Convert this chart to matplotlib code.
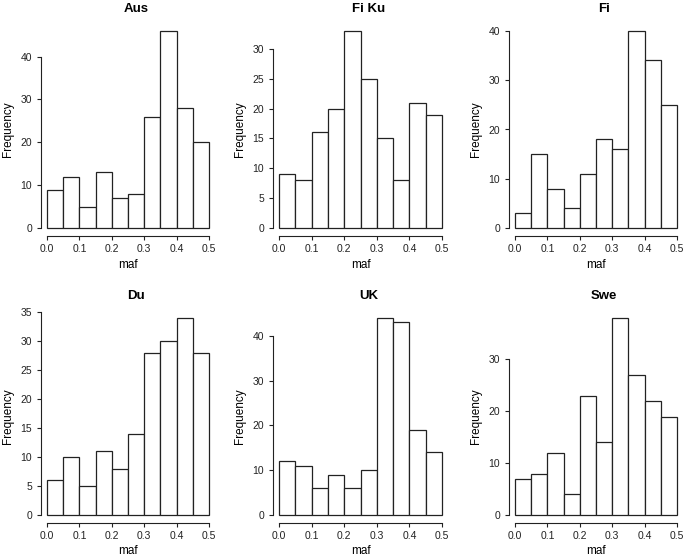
import numpy as np
import matplotlib
matplotlib.use('Agg')
import matplotlib.pyplot as plt

plt.rcParams['font.family'] = ['Liberation Sans', 'DejaVu Sans']

# maf histogram bins, shared by every panel
bin_edges = [0.0, 0.05, 0.1, 0.15, 0.2, 0.25, 0.3, 0.35, 0.4, 0.45, 0.5]
x_ticks = [0.0, 0.1, 0.2, 0.3, 0.4, 0.5]

# counts per bin
aus = [9, 12, 5, 13, 7, 8, 26, 46, 28, 20]
fi_ku = [9, 8, 16, 20, 33, 25, 15, 8, 21, 19]
fi = [3, 15, 8, 4, 11, 18, 16, 40, 34, 25]
du = [6, 10, 5, 11, 8, 14, 28, 30, 34, 28]
uk = [12, 11, 6, 9, 6, 10, 44, 43, 19, 14]
swe = [7, 8, 12, 4, 23, 14, 38, 27, 22, 19]

titles = ["Aus", "Fi Ku", "Fi", "Du", "UK", "Swe"]
counts = [aus, fi_ku, fi, du, uk, swe]
y_ticks = [
    [0, 10, 20, 30, 40],
    [0, 5, 10, 15, 20, 25, 30],
    [0, 10, 20, 30, 40],
    [0, 5, 10, 15, 20, 25, 30, 35],
    [0, 10, 20, 30, 40],
    [0, 10, 20, 30],
]

W, H = 685, 558
fig = plt.figure(figsize=(W / 100, H / 100), dpi=100)

# plot regions in pixels (left, top, right, bottom)
col_px = [(40.5, 215.5), (272.5, 448.5), (508.5, 683.5)]
row_px = [(23, 236), (310, 523)]

edges = np.array(bin_edges)
for i, (title, c, yt) in enumerate(zip(titles, counts, y_ticks)):
    r, k = divmod(i, 3)
    l, rr = col_px[k]
    t, b = row_px[r]
    ax = fig.add_axes([l / W, 1 - b / H, (rr - l) / W, (b - t) / H])
    ax.bar(edges[:-1], c, width=np.diff(edges), align='edge',
           color='white', edgecolor='#222222', linewidth=0.9)
    # R style: 4% padding on both axes
    ax.set_xlim(-0.02, 0.52)
    ymax = max(c)
    ax.set_ylim(-0.04 * ymax, 1.04 * ymax)
    for s in ['top', 'right']:
        ax.spines[s].set_visible(False)
    ax.spines['left'].set_bounds(yt[0], yt[-1])
    ax.spines['bottom'].set_bounds(0.0, 0.5)
    for s in ['left', 'bottom']:
        ax.spines[s].set_linewidth(0.8)
        ax.spines[s].set_color('#222222')
    ax.set_xticks(x_ticks)
    ax.set_xticklabels([f"{v:.1f}" for v in x_ticks])
    ax.set_yticks(yt)
    ax.tick_params(length=3, width=0.8, labelsize=7.5, pad=3, colors='#222222')
    ax.set_xlabel("maf", fontsize=8.5, labelpad=3)
    ax.set_ylabel("Frequency", fontsize=8.5, labelpad=5)
    ax.set_title(title, fontsize=9.5, fontweight='bold', x=0.5 + 8 / (rr - l), pad=8)

fig.savefig("out.png", dpi=100)
